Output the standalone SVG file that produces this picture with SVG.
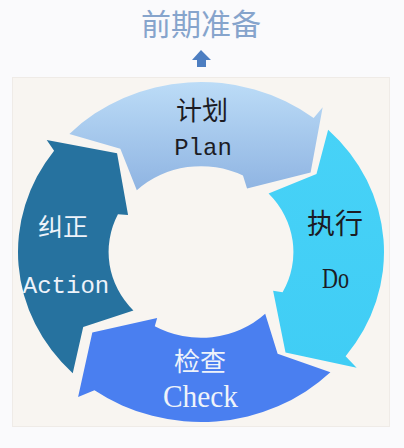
<svg xmlns="http://www.w3.org/2000/svg" width="404" height="448" viewBox="0 0 404 448">
  <style>
    .cjk { font-family: "Noto Sans CJK SC", "Noto Sans", sans-serif; text-anchor: middle; }
    .mono { font-family: "Liberation Mono", monospace; text-anchor: middle; }
    .serif { font-family: "Liberation Serif", serif; text-anchor: middle; }
    .dark { fill: #1c1c24; }
    .light { fill: #eef3fa; }
    .seg { stroke: none; }
  </style>
  <defs>
    <linearGradient id="gPlan" x1="0" y1="0" x2="0" y2="1">
      <stop offset="0" stop-color="#bcdcf7"/>
      <stop offset="1" stop-color="#8fb4e2"/>
    </linearGradient>
    <linearGradient id="gDo" x1="0" y1="0" x2="0" y2="1">
      <stop offset="0" stop-color="#47d2f7"/>
      <stop offset="1" stop-color="#40cdf5"/>
    </linearGradient>
  </defs>

  <rect x="0" y="0" width="404" height="448" fill="#fafafc"/>
  <rect x="12.5" y="77.5" width="377" height="349" fill="#f8f5f1" stroke="#efebe7" stroke-width="1"/>

  <g id="title">
    <text class="cjk" x="201" y="35" font-size="30" fill="#86a4cc">前期准备</text>
  </g>

  <g id="connectors">
    <path d="M192 60 L201 50 L211 60 L206 60 L206 67 L197 67 L197 60 Z" fill="#4d7ec1"/>
  </g>

  <g id="plan">
    <path class="seg" fill="url(#gPlan)" transform="translate(201,252) scale(1.83,1.70)"
      d="M -71.93 -69.47 A 100 100 0 0 1 61.57 -78.80 L 66.49 -85.10 L 59.89 -46.79 L 25.16 -37.31 L 22.93 -45.00 A 50.5 50.5 0 0 0 -35.08 -36.33 L -44.08 -60.68 Z"/>
    <text class="cjk dark" x="202" y="120" font-size="26">计划</text>
    <text class="mono dark" x="203" y="155" font-size="24">Plan</text>
  </g>

  <g id="do">
    <path class="seg" fill="url(#gDo)" transform="translate(201,252) scale(1.83,1.70)"
      d="M 69.47 -71.93 A 100 100 0 0 1 79.02 61.29 L 85.06 68.15 L 46.18 59.10 L 39.40 22.75 L 44.59 23.71 A 50.5 50.5 0 0 0 36.93 -34.44 L 63.10 -45.85 Z"/>
    <text class="cjk dark" x="335" y="234" font-size="28">执行</text>
    <text class="serif dark" x="335.5" y="288" font-size="30" textLength="27" lengthAdjust="spacingAndGlyphs">Do</text>
  </g>

  <g id="check">
    <path class="seg" fill="#4a7ff0" transform="translate(201,252) scale(1.83,1.70)"
      d="M 70.71 70.71 A 100 100 0 0 1 -58.21 81.31 L -67.16 85.35 L -59.39 47.42 L -23.96 38.80 L -25.25 43.73 A 50.5 50.5 0 0 0 35.08 36.33 L 41.87 59.80 Z"/>
    <text class="cjk light" x="200" y="371" font-size="26">检查</text>
    <text class="serif light" x="200.5" y="407" font-size="31" textLength="75" lengthAdjust="spacingAndGlyphs">Check</text>
  </g>

  <g id="action">
    <path class="seg" fill="#26729f" transform="translate(201,252) scale(1.83,1.70)"
      d="M -70.09 71.33 A 100 100 0 0 1 -80.28 -59.62 L -84.32 -65.88 L -45.87 -58.08 L -39.86 -21.73 L -45.39 -22.14 A 50.5 50.5 0 0 0 -36.93 34.44 L -64.36 44.07 Z"/>
    <text class="cjk light" x="63" y="236" font-size="25">纠正</text>
    <text class="mono light" x="66" y="293" font-size="24">Action</text>
  </g>
</svg>
